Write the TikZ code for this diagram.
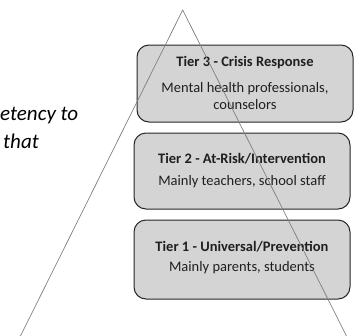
\documentclass[tikz,border=0pt]{standalone}
\usepackage{fontspec}
\setmainfont{Carlito}
\begin{document}
\begin{tikzpicture}[x=1pt,y=-1pt,
  tierbox/.style={draw=black!85, line width=1pt, fill=black!17, rounded corners=12pt},
  tiertitle/.style={font=\fontsize{14.5}{16}\selectfont\bfseries, text=black!88, inner sep=0pt},
  tiertext/.style={font=\fontsize{14.5}{16.5}\selectfont, text=black!88, inner sep=0pt, align=center},
  sidetext/.style={font=\fontsize{21}{26}\selectfont\itshape, text=black, inner sep=0pt, anchor=base west},
  edge/.style={draw=black!50, line width=0.7pt}]
\useasboundingbox (0,0) rectangle (359,335);
\begin{scope}
\clip (0,0) rectangle (359,335);
% side text at the left margin
\node[sidetext] (s1) at (0,120) {etency to};
\node[sidetext] (s2) at (3,148) {that};
% tier boxes
\draw[tierbox] (137,45) rectangle (353,122);
\draw[tierbox] (134,133) rectangle (350,209);
\draw[tierbox] (134,220) rectangle (350,299);
\node[tiertitle] (t3) at (245,63) {Tier 3 - Crisis Response};
\node[tiertext] (d3) at (245,96) {Mental health professionals,\\counselors};
\node[tiertitle] (t2) at (242,159) {Tier 2 - At-Risk/Intervention};
\node[tiertext] (d2) at (242,182) {Mainly teachers, school staff};
\node[tiertitle] (t1) at (242,247) {Tier 1 - Universal/Prevention};
\node[tiertext] (d1) at (242,268) {Mainly parents, students};
% pyramid outline drawn over the boxes
\coordinate (apex) at (182.7,10);
\coordinate (bl) at (16,345);
\coordinate (br) at (351,345);
\draw[edge] (bl) -- (apex) -- (br);
\end{scope}
\end{tikzpicture}
\end{document}
